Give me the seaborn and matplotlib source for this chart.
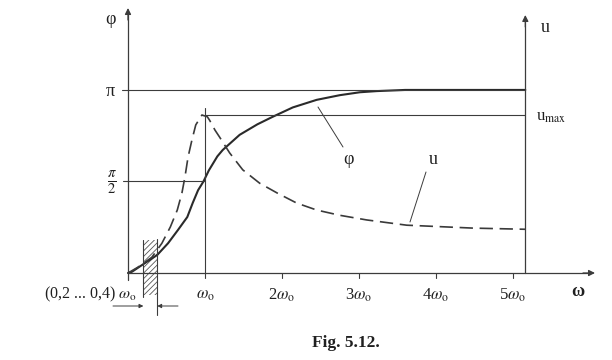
import numpy as np
import pandas as pd
import matplotlib
matplotlib.use("Agg")
import matplotlib.pyplot as plt
import seaborn as sns

# ---- data (x in units of omega_0, y in radians) ----
w_phi = [0.0, 0.05, 0.22, 0.38, 0.52, 0.65, 0.77, 0.84, 0.91, 0.98, 1.05, 1.16, 1.23, 1.45,
         1.68, 1.88, 2.14, 2.45, 2.75, 3.01, 3.23, 3.6, 5.16]
phi   = [0.0, 0.02, 0.17, 0.31, 0.51, 0.74, 0.96, 1.20, 1.42, 1.57, 1.76, 2.00, 2.11, 2.37,
         2.55, 2.68, 2.84, 2.97, 3.05, 3.10, 3.12, 3.14, 3.14]

w_u = [0.0, 0.13, 0.31, 0.44, 0.55, 0.64, 0.70, 0.74, 0.78, 0.83, 0.88, 0.96, 1.03, 1.06, 1.13,
       1.19, 1.32, 1.49, 1.71, 1.94, 2.19, 2.45, 2.75, 3.10, 3.62, 4.48, 5.16]
u   = [0.0, 0.10, 0.27, 0.51, 0.79, 1.08, 1.37, 1.65, 1.99, 2.28, 2.54, 2.71, 2.68, 2.62, 2.45,
       2.33, 2.06, 1.77, 1.54, 1.37, 1.20, 1.08, 0.99, 0.91, 0.82, 0.77, 0.75]

u_max = 2.71
w_right = 5.16
band = [0.2, 0.38]
x_ticks = [1, 2, 3, 4, 5]
x_ticklabels = [r"$\omega_{\rm o}$", r"2$\omega_{\rm o}$", r"3$\omega_{\rm o}$", r"4$\omega_{\rm o}$", r"5$\omega_{\rm o}$"]

sns.set_theme(style="white")
plt.rcParams['font.family'] = ['Liberation Serif', 'DejaVu Serif']
plt.rcParams['mathtext.fontset'] = 'stix'
plt.rcParams['hatch.linewidth'] = 0.6

W, H = 612, 360
fig = plt.figure(figsize=(W / 100, H / 100), dpi=100)
ax = fig.add_axes([0, 0, 1, 1])

# pixel -> data helpers (for positioning only)
X0, SX, Y0, SY = 128.0, 77.0, 273.0, 58.3
xd = lambda px: (px - X0) / SX
yd = lambda py: (Y0 - py) / SY

LC = '#3c3c3c'
TC = '#202020'

# curves
df_phi = pd.DataFrame({'w': w_phi, 'v': phi})
df_u = pd.DataFrame({'w': w_u, 'v': u})
sns.lineplot(data=df_phi, x='w', y='v', ax=ax, color='#2a2a2a', lw=1.5, sort=False)
sns.lineplot(data=df_u, x='w', y='v', ax=ax, color='#3a3a3a', lw=1.2, sort=False,
             linestyle=(0, (8, 4)))
ax.set_xlim(xd(0), xd(W))
ax.set_ylim(yd(H), yd(0))
ax.set_axis_off()

# axes lines
ax.plot([0, 0], [yd(280), yd(14)], color=LC, lw=0.9)
ax.plot([0, xd(589)], [0, 0], color=LC, lw=0.9)
ax.plot([w_right, w_right], [0, yd(21)], color=LC, lw=0.9)
arrow = dict(arrowstyle='-|>', color=LC, lw=0.9, mutation_scale=9, shrinkA=0, shrinkB=0)
ax.annotate('', xy=(0, yd(8)), xytext=(0, yd(20)), arrowprops=arrow)
ax.annotate('', xy=(w_right, yd(15)), xytext=(w_right, yd(27)), arrowprops=arrow)
ax.annotate('', xy=(xd(595), 0), xytext=(xd(583), 0), arrowprops=arrow)

# reference lines
ax.plot([xd(122), w_right], [np.pi, np.pi], color=LC, lw=0.8)
ax.plot([xd(123), 1], [np.pi / 2, np.pi / 2], color=LC, lw=0.8)
ax.plot([1, w_right], [u_max, u_max], color=LC, lw=0.8)
ax.plot([1, 1], [yd(278), yd(108)], color=LC, lw=0.8)
for t in x_ticks[1:]:
    ax.plot([t, t], [0, yd(278)], color=LC, lw=0.8)

# hatched band
ax.fill_betweenx([yd(295), yd(240)], band[0], band[1], facecolor='none',
                 edgecolor='#555555', hatch='//////', linewidth=0)
ax.plot([band[0], band[0]], [yd(297), yd(240)], color=LC, lw=0.8)
ax.plot([band[1], band[1]], [yd(315), yd(239)], color=LC, lw=0.8)
dim = dict(arrowstyle='-|>', color=LC, lw=0.7, mutation_scale=6, shrinkA=0, shrinkB=0)
ax.annotate('', xy=(band[0], yd(306)), xytext=(xd(113), yd(306)), arrowprops=dim)
ax.annotate('', xy=(band[1], yd(306)), xytext=(xd(178), yd(306)), arrowprops=dim)

# leaders
ax.plot([xd(318), xd(343)], [yd(107), yd(147)], color=LC, lw=0.7)
ax.plot([xd(426), xd(410)], [yd(172), yd(222)], color=LC, lw=0.7)

# texts
fs = 12
ax.text(xd(110), yd(20), 'φ', fontsize=13, color=TC, ha='center', va='center')
ax.text(xd(110), yd(91), 'π', fontsize=13, color=TC, ha='center', va='center')
ax.text(xd(112), yd(183), r'$\frac{\pi}{2}$', fontsize=15, color=TC, ha='center', va='center')
ax.text(xd(545), yd(27), 'u', fontsize=13, color=TC, ha='center', va='center')
ax.text(xd(536), yd(117), r'u$_{\rm max}$', fontsize=12, color=TC, ha='left', va='center')
ax.text(xd(348), yd(160), 'φ', fontsize=13, color=TC, ha='center', va='center')
ax.text(xd(433), yd(160), 'u', fontsize=13, color=TC, ha='center', va='center')
ax.text(xd(90), yd(294), r'(0,2 ... 0,4) $\omega_{\rm o}$', fontsize=11.5, color=TC, ha='center', va='center')
for t, lab in zip(x_ticks, x_ticklabels):
    ax.text(t, yd(295), lab, fontsize=fs, color=TC, ha='center', va='center')
ax.text(xd(578), yd(292), 'ω', fontsize=13, color=TC, ha='center', va='center', fontweight='bold')
ax.text(xd(346), yd(343), 'Fig. 5.12.', fontsize=12.5, color=TC, ha='center', va='center', fontweight='bold')

fig.savefig('out.png', dpi=100, facecolor='white')
